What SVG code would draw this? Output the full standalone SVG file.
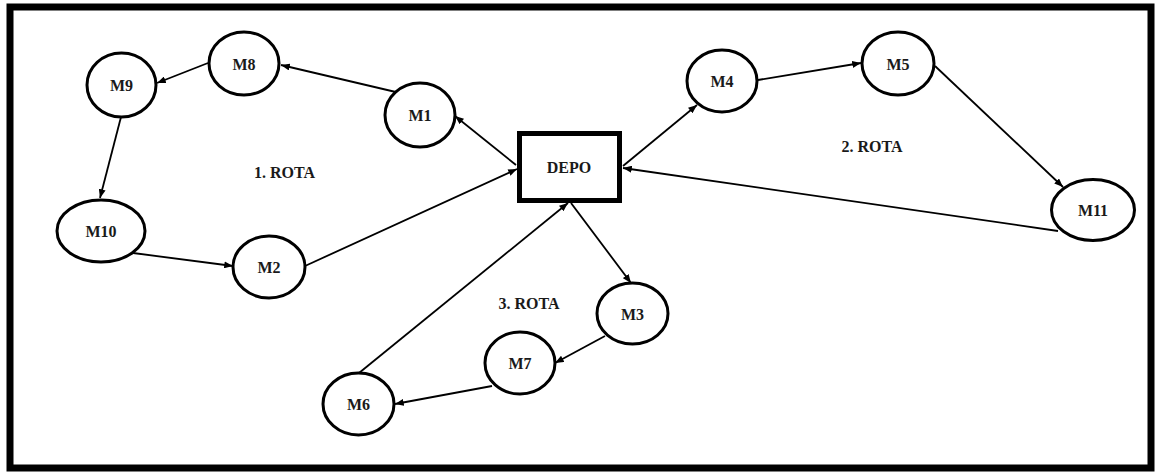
<svg xmlns="http://www.w3.org/2000/svg" width="1160" height="472" viewBox="0 0 1160 472">
<defs>
<marker id="arr" viewBox="0 0 10 8" markerWidth="9" markerHeight="7" refX="10" refY="4" orient="auto" markerUnits="userSpaceOnUse">
<path d="M0,0 L10,4 L0,8 z" fill="#000"/>
</marker>
</defs>
<style>
.node ellipse{fill:#fff;stroke:#000;stroke-width:3}
.lbl{font-family:"Liberation Serif","Times New Roman",serif;font-weight:bold;font-size:16px;fill:#1a1a1a;text-anchor:middle}
.edge{stroke:#000;stroke-width:1.8;fill:none;marker-end:url(#arr)}
.plain{stroke:#000;stroke-width:1.8;fill:none}
</style>
<rect x="0" y="0" width="1160" height="472" fill="#fff"/>
<rect id="frame" x="10" y="7" width="1141" height="461" fill="#fff" stroke="#000" stroke-width="7"/>

<g id="connectors">
<line class="edge" x1="400" y1="93" x2="281" y2="65"/>
<line class="edge" x1="208" y1="63" x2="157" y2="83"/>
<line class="edge" x1="121" y1="117" x2="100" y2="198"/>
<line class="edge" x1="133" y1="253" x2="233" y2="266"/>
<line class="edge" x1="305" y1="266" x2="517" y2="169"/>
<line class="edge" x1="516" y1="165" x2="455" y2="116"/>
<line class="edge" x1="623" y1="166" x2="697" y2="105"/>
<line class="edge" x1="758" y1="80" x2="861" y2="63"/>
<line class="edge" x1="935" y1="66" x2="1063" y2="187"/>
<line class="edge" x1="1058" y1="231" x2="623" y2="168"/>
<line class="edge" x1="571" y1="203" x2="631" y2="283"/>
<line class="edge" x1="605" y1="336" x2="555" y2="363"/>
<line class="edge" x1="492" y1="386" x2="395" y2="404"/>
<line class="edge" x1="359" y1="373" x2="568" y2="203"/>
</g>

<g id="DEPO" class="node">
<rect x="519.5" y="133.5" width="100" height="67" fill="#fff" stroke="#000" stroke-width="5"/>
<text class="lbl" x="569" y="173">DEPO</text>
</g>
<g id="M1" class="node"><ellipse cx="420" cy="115" rx="35" ry="32"/><text class="lbl" x="420" y="121">M1</text></g>
<g id="M2" class="node"><ellipse cx="269" cy="267" rx="36" ry="31"/><text class="lbl" x="269" y="273">M2</text></g>
<g id="M3" class="node"><ellipse cx="632.5" cy="313.5" rx="35.5" ry="30.5"/><text class="lbl" x="632.5" y="319.5">M3</text></g>
<g id="M4" class="node"><ellipse cx="722" cy="81" rx="35" ry="31"/><text class="lbl" x="722" y="87">M4</text></g>
<g id="M5" class="node"><ellipse cx="898" cy="63.5" rx="36" ry="31.5"/><text class="lbl" x="898" y="69.5">M5</text></g>
<g id="M6" class="node"><ellipse cx="358.5" cy="404" rx="35.5" ry="31"/><text class="lbl" x="358.5" y="410">M6</text></g>
<g id="M7" class="node"><ellipse cx="520" cy="363" rx="35" ry="31"/><text class="lbl" x="520" y="369">M7</text></g>
<g id="M8" class="node"><ellipse cx="244" cy="63.5" rx="35" ry="31.5"/><text class="lbl" x="244" y="69.5">M8</text></g>
<g id="M9" class="node"><ellipse cx="121.5" cy="85" rx="34.5" ry="32"/><text class="lbl" x="121.5" y="91">M9</text></g>
<g id="M10" class="node"><ellipse cx="101" cy="231" rx="44" ry="31"/><text class="lbl" x="101" y="237">M10</text></g>
<g id="M11" class="node"><ellipse cx="1093" cy="210" rx="41.5" ry="30.5"/><text class="lbl" x="1093" y="216">M11</text></g>

<g id="labels">
<text class="lbl" x="284.5" y="178">1. ROTA</text>
<text class="lbl" x="872" y="152">2. ROTA</text>
<text class="lbl" x="529" y="309">3. ROTA</text>
</g>
</svg>
